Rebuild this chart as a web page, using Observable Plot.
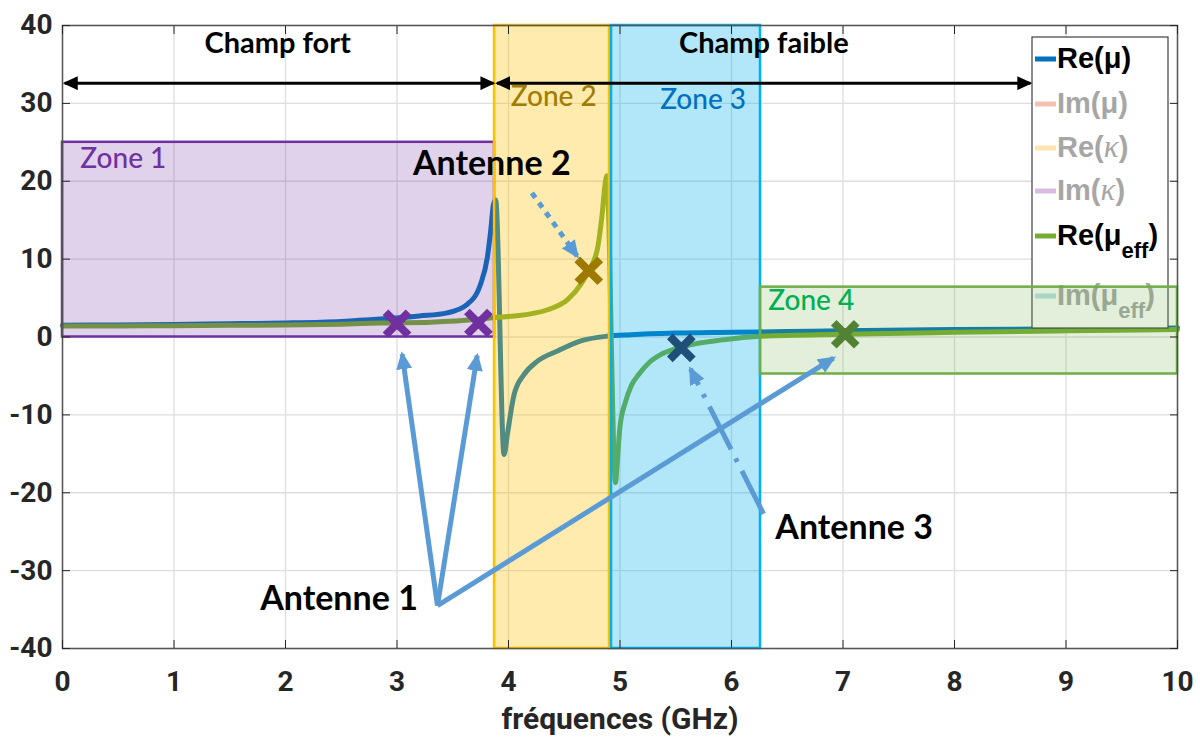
<!DOCTYPE html>
<html><head><meta charset="utf-8">
<script src="https://cdn.jsdelivr.net/npm/d3@7"></script>
<script src="https://cdn.jsdelivr.net/npm/@observablehq/plot@0.6"></script>
<style>body{margin:0;background:#fff;} #chart{position:relative;width:1200px;height:745px;}</style>
</head><body><div id="chart"></div>
<script>
// ---- data ----
const xTicks = [0,1,2,3,4,5,6,7,8,9,10];
const yTicks = [-40,-30,-20,-10,0,10,20,30,40];
const xLabel = "fréquences (GHz)";

const freqMu = [0,0.5,1,1.5,2,2.5,2.85,3.2,3.45,3.63,3.75,3.81,3.84,3.865,3.885,3.96,3.99,4.05,4.14,4.26,4.44,4.65,4.88,5.1,5.5,6.0,6.5,7,8,9,10];
const reMu   = [1.5,1.55,1.6,1.7,1.8,2.0,2.3,2.7,3.1,4.2,6.8,10.2,13.6,17.0,17.6,-15.1,-12.5,-7.4,-4.8,-3.1,-1.8,-0.5,0.1,0.3,0.5,0.6,0.7,0.8,0.95,1.05,1.15];

const freqEff = [0,0.5,1,1.5,2,2.5,2.85,3.3,3.75,3.88,4.05,4.35,4.53,4.65,4.72,4.8,4.84,4.87,4.88,4.96,4.97,5.0,5.05,5.1,5.18,5.26,5.36,5.5,5.7,5.9,6.26,7.0,8,9,10];
const reEff   = [1.4,1.42,1.45,1.5,1.55,1.65,1.8,1.9,2.3,2.5,2.7,3.5,4.8,6.8,8.5,11.5,15.8,20,20.7,-18.7,-17.2,-11.5,-8.3,-6.3,-4.6,-3.3,-2.3,-1.5,-0.8,-0.4,0.1,0.35,0.6,0.8,0.95];

const zoneNames = ["Zone 1","Zone 2","Zone 3","Zone 4"];
const zoneX1 = [0, 3.875, 4.924, 6.26];
const zoneX2 = [3.875, 4.906, 6.26, 10];
const zoneY1 = [0, -40, -40, -4.75];
const zoneY2 = [25, 40, 40, 6.4];
const zoneColors = ["#7030a0","#ffc000","#00b0f0","#70ad47"];
const zoneOpacity = [0.22, 0.32, 0.3, 0.2];
const zoneLabelX = [0.16, 4.02, 5.36, 6.33];
const zoneLabelY = [21.7, 29.65, 29.3, 3.47];
const zoneLabelColors = ["#7030a0","#a07d00","#0070c0","#00b050"];

const crossX = [3.0, 3.73, 4.72, 5.55, 7.02];
const crossY = [1.7, 1.8, 8.5, -1.4, 0.35];
const crossColors = ["#7030a0","#7030a0","#9c7a00","#1f4e79","#548235"];

const fieldNames = ["Champ fort","Champ faible"];
const fieldX1 = [0.02, 3.897];
const fieldX2 = [3.865, 8.68];
const fieldY = [32.6, 32.6];
const fieldLabelX = [1.93, 6.29];
const fieldLabelY = [36.5, 36.5];

const antennaNames = ["Antenne 1","Antenne 2","Antenne 3"];
const antennaLabelX = [2.48, 3.85, 7.10];
const antennaLabelY = [-35.0, 20.8, -25.9];

const arrowFromX = [3.363, 3.363, 3.363, 4.21, 6.287];
const arrowFromY = [-34.5, -34.5, -34.5, 18.5, -22.7];
const arrowToX   = [3.046, 3.719, 6.915, 4.615, 5.632];
const arrowToY   = [-2.2, -2.4, -2.7, 10.4, -4.1];
const arrowStyle = ["solid","solid","solid","dotted","dashdot"];

const legendRows = [
  [["Re(μ)",""]],
  [["Im(μ)",""]],
  [["Re(",""],["κ","i"],[")",""]],
  [["Im(",""],["κ","i"],[")",""]],
  [["Re(μ",""],["eff","sub"],[")","up"]],
  [["Im(μ",""],["eff","sub"],[")","up"]]
];
const legendSwatch = ["#0072bd","#f4c2b0","#fbe4ad","#d8bde0","#77ac30","#b8e0ea"];
const legendText = ["#000","#a6a6a6","#a6a6a6","#a6a6a6","#000","#a6a6a6"];

// ---- build ----
const muData = freqMu.map((f,i)=>({x:f, y:reMu[i]}));
const effData = freqEff.map((f,i)=>({x:f, y:reEff[i]}));
const idx = n => d3.range(n);
const arrows = idx(arrowFromX.length).map(i=>({x1:arrowFromX[i],y1:arrowFromY[i],x2:arrowToX[i],y2:arrowToY[i],style:arrowStyle[i]}));

const annFont = "Lato, 'Open Sans', sans-serif";
const axisFont = "Roboto, 'Liberation Sans', sans-serif";

const zoneMark = i => Plot.rect([i], {
  x1: d=>zoneX1[d], x2: d=>zoneX2[d], y1: d=>zoneY1[d], y2: d=>zoneY2[d],
  fill: zoneColors[i], fillOpacity: zoneOpacity[i], stroke: zoneColors[i], strokeWidth: 2.5,
  ariaDescription: i === 3 ? "zone4" : "zone"
});

const chart = Plot.plot({
  width: 1200, height: 745,
  marginLeft: 62, marginRight: 23, marginTop: 25, marginBottom: 97,
  x: {domain: [0,10]},
  y: {domain: [-40,40]},
  color: {type: "identity"},
  style: {fontFamily: axisFont, background: "#fff", color: "#262626"},
  marks: [
    Plot.gridX(xTicks, {stroke: "#dedede", strokeOpacity: 1, strokeWidth: 1.3}),
    Plot.gridY(yTicks, {stroke: "#dedede", strokeOpacity: 1, strokeWidth: 1.3}),
    Plot.line(muData, {x: "x", y: "y", stroke: "#0072bd", strokeWidth: 5, curve: "monotone-x"}),
    Plot.line(effData, {x: "x", y: "y", stroke: "#77ac30", strokeWidth: 5, curve: "monotone-x"}),
    zoneMark(0), zoneMark(1), zoneMark(2), zoneMark(3),
    Plot.dot(idx(crossX.length), {x: i=>crossX[i], y: i=>crossY[i], symbol: "times", r: 10.5, stroke: i=>crossColors[i], strokeWidth: 8}),
    Plot.link(idx(2), {x1: i=>fieldX1[i], x2: i=>fieldX2[i], y1: i=>fieldY[i], y2: i=>fieldY[i], stroke: "#000", strokeWidth: 3, ariaDescription: "field-arrow"}),
    Plot.link(arrows.filter(a=>a.style==="solid"), {x1:"x1", y1:"y1", x2:"x2", y2:"y2", stroke: "#5b9bd5", strokeWidth: 5, ariaDescription: "antenna-arrow"}),
    Plot.link(arrows.filter(a=>a.style==="dotted"), {x1:"x1", y1:"y1", x2:"x2", y2:"y2", stroke: "#5b9bd5", strokeWidth: 5, strokeDasharray: "6,6", ariaDescription: "antenna-arrow"}),
    Plot.link(arrows.filter(a=>a.style==="dashdot"), {x1:"x1", y1:"y1", x2:"x2", y2:"y2", stroke: "#5b9bd5", strokeWidth: 5, strokeDasharray: "48,10,4,10", ariaDescription: "antenna-arrow"}),
    Plot.text(idx(2), {x: i=>fieldLabelX[i], y: i=>fieldLabelY[i], text: i=>fieldNames[i], lineAnchor: "bottom", fontFamily: annFont, fontWeight: "bold", fontSize: 29, fill: "#000"}),
    Plot.text(idx(4), {x: i=>zoneLabelX[i], y: i=>zoneLabelY[i], text: i=>zoneNames[i], textAnchor: "start", lineAnchor: "bottom", fontFamily: annFont, fontWeight: 500, fontSize: 28, fill: i=>zoneLabelColors[i]}),
    Plot.text(idx(3), {x: i=>antennaLabelX[i], y: i=>antennaLabelY[i], text: i=>antennaNames[i], lineAnchor: "bottom", fontFamily: annFont, fontWeight: "bold", fontSize: 34, fill: "#000"}),
    Plot.frame({stroke: "#555", strokeWidth: 1.5}),
    Plot.axisX(xTicks, {anchor: "bottom", tickSize: -8, tickPadding: 31, tickFormat: d=>String(d), label: null, fontSize: 28, fontWeight: "bold", fontFamily: axisFont, color: "#262626"}),
    Plot.axisX(xTicks, {anchor: "top", tickSize: -8, tickFormat: ()=>"", label: null, color: "#262626"}),
    Plot.axisY(yTicks, {anchor: "left", tickSize: -8, tickPadding: 18, tickFormat: d=>String(d), label: null, fontSize: 28, fontWeight: "bold", fontFamily: axisFont, color: "#262626"}),
    Plot.axisY(yTicks, {anchor: "right", tickSize: -8, tickFormat: ()=>"", label: null, color: "#262626"}),
    Plot.text([xLabel], {frameAnchor: "bottom", lineAnchor: "bottom", dy: 80, text: d=>d, fontSize: 30, fontWeight: "bold", fontFamily: axisFont, fill: "#262626"})
  ]
});
document.getElementById("chart").appendChild(chart);

// ---- post-process: filled arrowheads + legend ----
const svg = d3.select(chart);
const defs = svg.insert("defs", ":first-child");
function addMarker(id, color, len, wid, ref) {
  defs.append("marker").attr("id", id)
    .attr("viewBox", `0 0 ${len} ${wid}`).attr("refX", ref).attr("refY", wid/2)
    .attr("markerWidth", len).attr("markerHeight", wid)
    .attr("markerUnits", "userSpaceOnUse").attr("orient", "auto-start-reverse")
    .append("path").attr("d", `M0,0L${len},${wid/2}L0,${wid}Z`).attr("fill", color);
}
addMarker("headBlack", "#000", 15, 14, 13);
addMarker("headBlue", "#5b9bd5", 18, 16, 15);
svg.selectAll('g[aria-description="field-arrow"] path, g[aria-description="field-arrow"] line')
  .attr("marker-start", "url(#headBlack)").attr("marker-end", "url(#headBlack)");
svg.selectAll('g[aria-description="antenna-arrow"] path, g[aria-description="antenna-arrow"] line')
  .attr("marker-end", "url(#headBlue)");

// legend (drawn under zone 4, as in the original)
const zone4 = svg.select('g[aria-description="zone4"]').node();
const lgNode = document.createElementNS("http://www.w3.org/2000/svg", "g");
chart.insertBefore(lgNode, zone4);
const lg = d3.select(lgNode).attr("aria-label", "legend").attr("text-anchor", "start");
lg.append("rect").attr("x", 1032).attr("y", 37).attr("width", 136).attr("height", 291)
  .attr("fill", "#fff").attr("stroke", "#404040").attr("stroke-width", 1.2);
const rowBase = [68, 113, 157, 200, 245, 305];
legendRows.forEach((parts, r) => {
  lg.append("line").attr("x1", 1035).attr("x2", 1056)
    .attr("y1", rowBase[r] - 9).attr("y2", rowBase[r] - 9)
    .attr("stroke", legendSwatch[r]).attr("stroke-width", 5);
  const t = lg.append("text").attr("x", 1057).attr("y", rowBase[r])
    .attr("text-anchor", "start")
    .attr("font-family", "'Liberation Sans', Arial, sans-serif").attr("font-weight", "bold")
    .attr("font-size", 29).attr("fill", legendText[r]);
  parts.forEach(([s, st]) => {
    const sp = t.append("tspan").text(s);
    if (st === "i") sp.attr("font-style", "italic").attr("font-family", "'Liberation Serif', serif").attr("font-weight", "normal").attr("font-size", 31);
    if (st === "sub") sp.attr("font-size", 22).attr("dy", 13);
    if (st === "up") sp.attr("dy", -13);
  });
});
</script>
</body></html>
